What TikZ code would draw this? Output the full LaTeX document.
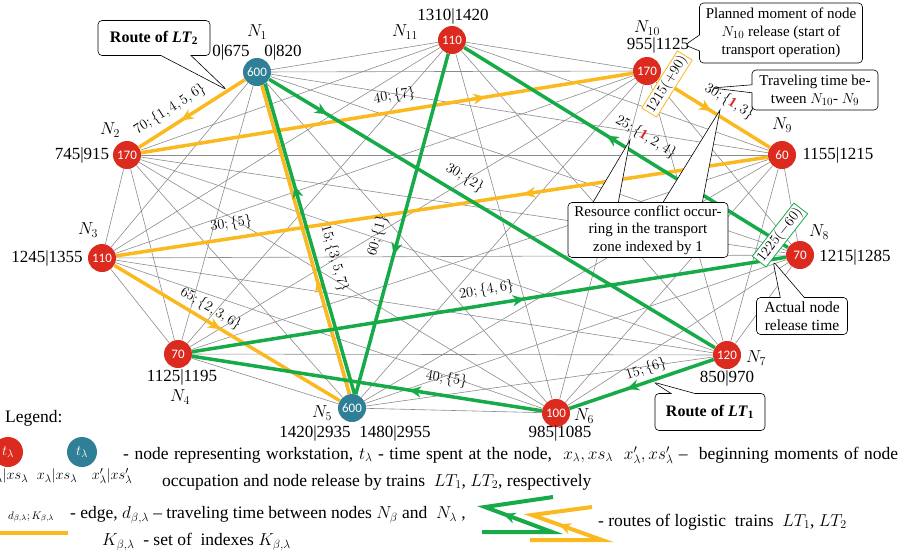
\documentclass[tikz,border=0pt]{standalone}
\usepackage{fontspec}
\setmainfont{Liberation Serif}
\newfontfamily\carlito{Carlito}
\usetikzlibrary{arrows.meta, decorations.markings, shapes.callouts}

\definecolor{stred}{RGB}{220,42,31}
\definecolor{stblue}{RGB}{47,127,150}
\definecolor{lttwo}{RGB}{250,185,30}
\definecolor{ltone}{RGB}{22,170,72}

\tikzset{
	station/.style={circle, minimum size=28pt, inner sep=0pt, text=white, font=\carlito\fontsize{13}{13}\selectfont},
	redst/.style={station, fill=stred},
	bluest/.style={station, fill=stblue},
	link/.style={draw=gray!90, line width=0.6pt},
	lt1/.style={draw=ltone, line width=3.5pt},
	lt2/.style={draw=lttwo, line width=3.5pt},
	midarrow/.style={postaction={decorate}, decoration={markings, mark=at position #1 with {\arrow{Stealth[length=12pt, width=11pt, line width=0.1pt]}}}},
	elabel/.style={sloped, above=#1, inner sep=1.5pt, font=\fontsize{14}{14}\selectfont},
	elabel/.default=4pt,
	nname/.style={font=\fontsize{18}{18}\selectfont},
	ntime/.style={font=\fontsize{17}{17}\selectfont},
	callbox/.style={rectangle callout, draw, fill=white, rounded corners=4pt, line width=0.6pt, align=center, inner sep=2pt, font=\fontsize{15}{18}\selectfont},
	relbox/.style={fill=white, line width=0.8pt, inner sep=1.5pt, font=\fontsize{14}{14}\selectfont},
	legtext/.style={anchor=west, inner sep=0pt, font=\fontsize{17.5}{17.5}\selectfont},
}

\begin{document}
\begin{tikzpicture}[x=1pt, y=-1pt]
	\useasboundingbox (0,0) rectangle (905,555);
	% workstations
	\node[bluest] (n1) at (257,72) {600};
	\node[redst] (n2) at (127,155) {170};
	\node[redst] (n3) at (102,258) {110};
	\node[redst] (n4) at (178,354) {70};
	\node[bluest] (n5) at (352,408) {600};
	\node[redst] (n6) at (556,413) {100};
	\node[redst] (n7) at (727,355) {120};
	\node[redst] (n8) at (800,255) {70};
	\node[redst] (n9) at (782,155) {60};
	\node[redst] (n10) at (647,71) {170};
	\node[redst] (n11) at (452,40) {110};
	% all edges
	\foreach \a in {1,...,10}{
		\pgfmathtruncatemacro\nxt{\a+1}
		\foreach \b in {\nxt,...,11}
			\draw[link] (n\a) -- (n\b);
	}
	% route of LT2
	\draw[lt2, midarrow=0.6] (n1) -- (n2) node[elabel=5pt, pos=0.63]{$70;\{1,4,5,6\}$};
	\draw[lt2, midarrow=0.7] (n2) -- (n10) node[elabel=5pt, pos=0.52]{$40;\{7\}$};
	\draw[lt2, midarrow=0.47] (n10) -- (n9) node[elabel=7pt, pos=0.55]{$30;\{\textcolor{stred}{\mathbf{1}},3\}$};
	\draw[lt2, midarrow=0.375] (n9) -- (n3) node[elabel, pos=0.82]{$30;\{5\}$};
	\draw[lt2, midarrow=0.47] (n3) -- (n5) node[elabel=2pt, pos=0.4]{$65;\{2,3,6\}$};
	\draw[lt2, midarrow=0.37] (n5.100) -- (n1.-70) node[elabel=12pt, pos=0.42]{$15;\{3,5,7\}$};
	% route of LT1
	\draw[lt1, midarrow=0.67] (n5.80) -- (n1.-55);
	\draw[lt1, midarrow=0.13] (n1) -- (n7) node[elabel=6pt, pos=0.42]{$30;\{2\}$};
	\draw[lt1, midarrow=0.6] (n7) -- (n6) node[elabel=2pt, pos=0.44]{$15;\{6\}$};
	\draw[lt1, midarrow=0.38] (n6) -- (n4) node[elabel=6pt, pos=0.28]{$40;\{5\}$};
	\draw[lt1, midarrow=0.56] (n4) -- (n8) node[elabel, pos=0.5]{$20;\{4,6\}$};
	\draw[lt1, midarrow=0.56] (n8) -- (n11) node[elabel=9pt, pos=0.47]{$25;\{\textcolor{stred}{\mathbf{1}},2,4\}$};
	\draw[lt1, midarrow=0.59] (n11) -- (n5) node[elabel=10pt, pos=0.55]{$60;\{1\}$};
	% names and times
	\node[nname] at (257,32) {$N_{1}$};
	\node[ntime] at (231,52) {0|675};
	\node[ntime] at (283,52) {0|820};
	\node[nname] at (110,130) {$N_{2}$};
	\node[ntime] at (82,155) {745|915};
	\node[nname] at (88,230) {$N_{3}$};
	\node[ntime] at (47,258) {1245|1355};
	\node[ntime] at (182,377) {1125|1195};
	\node[nname] at (180,397) {$N_{4}$};
	\node[nname] at (322,413) {$N_{5}$};
	\node[ntime] at (315,433) {1420|2935};
	\node[ntime] at (395,433) {1480|2955};
	\node[nname] at (584,416) {$N_{6}$};
	\node[ntime] at (560,433) {985|1085};
	\node[nname] at (756,358) {$N_{7}$};
	\node[ntime] at (727,378) {850|970};
	\node[nname] at (819,232) {$N_{8}$};
	\node[ntime] at (855,257) {1215|1285};
	\node[nname] at (782,125) {$N_{9}$};
	\node[ntime] at (838,155) {1155|1215};
	\node[nname] at (647,28) {$N_{10}$};
	\node[ntime] at (658,45) {955|1125};
	\node[nname] at (405,32) {$N_{11}$};
	\node[ntime] at (453,16) {1310|1420};
	% release times
	\node[relbox, draw=lttwo, rotate=58] (rel10) at (667,84) {$1215(+90)$};
	\node[relbox, draw=ltone, rotate=52] (rel8) at (780,235) {$1225(-60)$};
	% callouts
	\node[callbox, callout absolute pointer={(227,90)}, callout pointer width=30pt, minimum width=112pt, minimum height=35pt, font=\bfseries\fontsize{16}{16}\selectfont] (rlt2) at (154,38) {Route of \textit{LT}$_{\mathbf{2}}$};
	\node[callbox, callout absolute pointer={(685,45)}, callout pointer width=16pt, minimum width=163pt, minimum height=60pt] (plan) at (781,33) {Planned moment of node\\$N_{10}$ release (start of\\transport operation)};
	\node[callbox, callout absolute pointer={(712,88)}, callout pointer width=8pt, minimum width=126pt, minimum height=40pt] (trav) at (815,90) {Traveling time be-\\tween $N_{10}$- $N_{9}$};
	\draw[fill=white, line width=0.6pt] (592,204) -- (630,140) -- (618,204);
	\draw[fill=white, line width=0.6pt] (662,204) -- (720,110) -- (702,204);
	\node[draw, fill=white, rounded corners=4pt, line width=0.6pt, align=center, inner sep=2pt, minimum width=160pt, minimum height=55pt, font=\fontsize{15}{17.5}\selectfont] (confl) at (648,230) {Resource conflict occur-\\ring in the transport\\zone indexed by 1};
	\node[callbox, callout absolute pointer={(773,261)}, callout pointer width=24pt, minimum width=91pt, minimum height=37pt, font=\fontsize{15.5}{18}\selectfont] (actual) at (802,316) {Actual node\\release time};
	\node[callbox, callout absolute pointer={(653,382)}, callout pointer width=24pt, minimum width=110pt, minimum height=37pt, font=\bfseries\fontsize{16}{16}\selectfont] (rlt1) at (710,412) {Route of \textit{LT}$_{\mathbf{1}}$};
	% legend
	\node[legtext, font=\fontsize{17.5}{17.5}\selectfont] (leg) at (5,418) {Legend:};
	\node[redst, minimum size=30pt, font=\fontsize{15}{15}\selectfont] (lred) at (8,452) {$t_\lambda$};
	\node[bluest, minimum size=30pt, font=\fontsize{15}{15}\selectfont] (lblue) at (82,452) {$t_\lambda$};
	\node[ntime, font=\fontsize{15}{15}\selectfont] at (8,476) {$x_\lambda|xs_\lambda$};
	\node[ntime, font=\fontsize{15}{15}\selectfont] at (57,476) {$x_\lambda|xs_\lambda$};
	\node[ntime, font=\fontsize{15}{15}\selectfont] at (112,476) {$x'_\lambda|xs'_\lambda$};
	\node[legtext] at (123,455) {\makebox[775pt][s]{- node representing workstation, $t_\lambda$ - time spent at the node, \ $x_\lambda, xs_\lambda$ \ $x'_\lambda,xs'_\lambda$ -- \ beginning moments of node}};
	\node[legtext] at (162,482) {occupation and node release by trains \ $LT_1$, $LT_2$, respectively};
	\node[font=\fontsize{11}{11}\selectfont] at (31,517) {$d_{\beta,\lambda};K_{\beta,\lambda}$};
	\draw[lt2, line width=4pt] (0,533) -- (68,533);
	\node[legtext] at (70,515) {- edge, $d_{\beta,\lambda}$ -- traveling time between nodes $N_\beta$ and \ $N_\lambda$ ,};
	\node[legtext] at (102,542) {$K_{\beta,\lambda}$ \ - set of \ indexes $K_{\beta,\lambda}$};
	\draw[lt1, line width=4pt, midarrow=0.58] (482,532) -- (552,532) -- (485,507) -- (553,497);
	\draw[lt2, line width=4pt, midarrow=0.57] (530,540) -- (602,540) -- (532,515) -- (592,507);
	\node[legtext] at (598,522) {- routes of logistic \ trains \ $LT_1$, $LT_2$};
\end{tikzpicture}
\end{document}
